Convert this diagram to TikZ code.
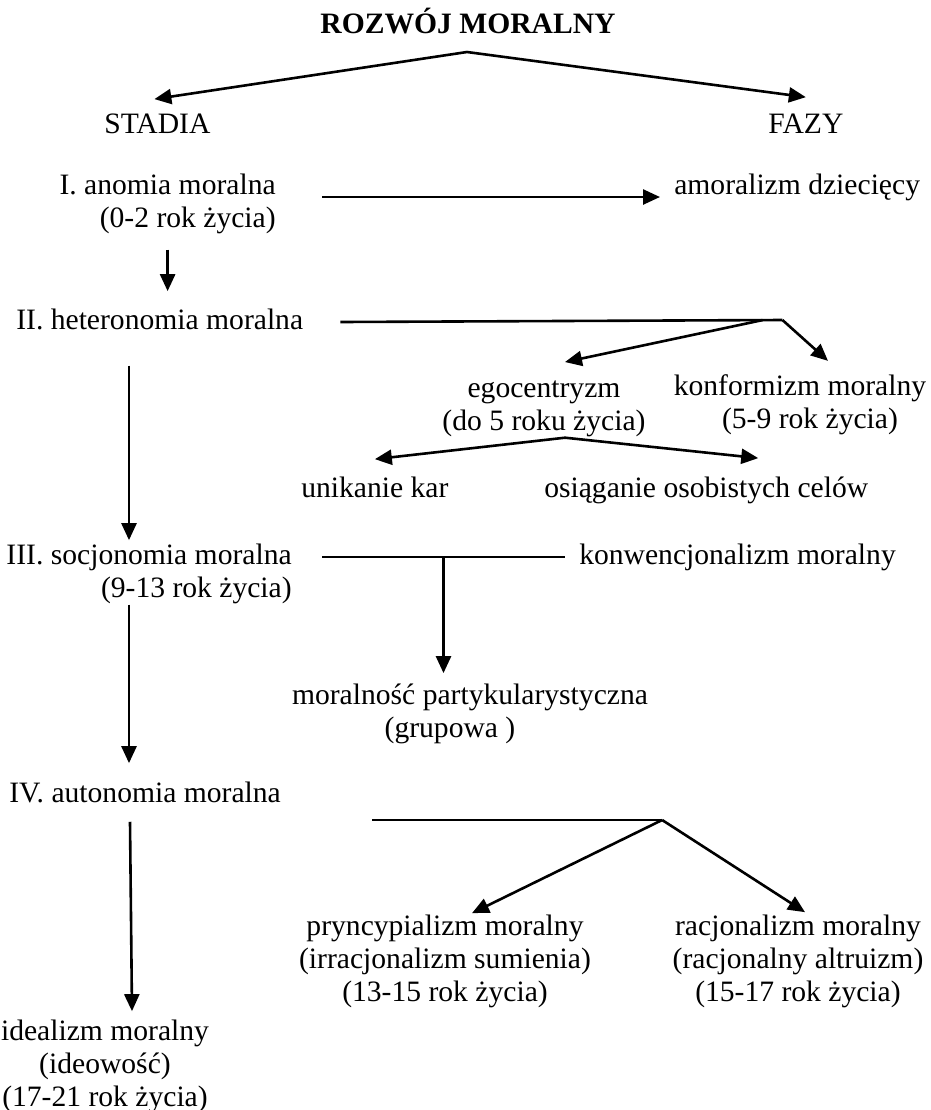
\documentclass[tikz,border=0pt]{standalone}
\usepackage{fontspec}
\setmainfont{Liberation Serif}
\usepackage{tikz}
\usetikzlibrary{arrows.meta,positioning,calc}

\begin{document}
\begin{tikzpicture}[x=0.5pt, y=-0.5pt, >={Triangle[length=8.5pt,width=7.5pt]},
  line width=1.3pt,
  every node/.style={inner sep=0pt, font=\fontsize{14.8}{16.5}\selectfont},
  napis/.style={anchor=base west},
  blok/.style={anchor=base, align=center},
  blokp/.style={anchor=base east, align=right}]

  \useasboundingbox (0,0) rectangle (931,1110);

  % Define nodes (multi-line nodes sit on their last line)
  \node (rozwoj) [anchor=base, font=\fontsize{14.8}{16.5}\selectfont\bfseries] at (468,33) {ROZWÓJ MORALNY};
  \node (stadia) [napis] at (103,133) {STADIA};
  \node (fazy) [napis] at (767,133) {FAZY};
  \node (anomia) [blokp] at (277,227) {I. anomia moralna\\(0-2 rok życia)};
  \node (amoralizm) [napis] at (673,194) {amoralizm dziecięcy};
  \node (heteronomia) [napis] at (15,329) {II. heteronomia moralna};
  \node (egocentryzm) [blok] at (544,430) {egocentryzm\\(do 5 roku życia)};
  \node (konformizm) [blok] at (800,428) {konformizm moralny\\\hspace*{10pt}(5-9 rok życia)};
  \node (unikanie) [napis] at (300,497) {unikanie kar};
  \node (osiaganie) [napis] at (543,497) {osiąganie osobistych celów};
  \node (socjonomia) [blokp] at (293,597) {III. socjonomia moralna\\(9-13 rok życia)};
  \node (konwencjonalizm) [napis] at (578,564) {konwencjonalizm moralny};
  \node (partykularyzm) [blok] at (470,737) {moralność partykularystyczna\\(grupowa )\hspace*{20pt}};
  \node (autonomia) [napis] at (8,802) {IV. autonomia moralna};
  \node (pryncypializm) [blok] at (445,1001) {pryncypializm moralny\\(irracjonalizm sumienia)\\(13-15 rok życia)};
  \node (racjonalizm) [blok] at (798,1001) {racjonalizm moralny\\(racjonalny altruizm)\\(15-17 rok życia)};
  \node (idealizm) [blok] at (105,1106) {idealizm moralny\\(ideowość)\\(17-21 rok życia)};

  % Define branch points
  \coordinate (r0) at (467,52);
  \coordinate (kol) at (129,0);
  \coordinate (h1) at ($(heteronomia.base east)+(36,-7)$);
  \coordinate (h0) at ($(h1)+(442,-2)$);
  \coordinate (e0) at ($(egocentryzm.south)+(21,0)$);
  \coordinate (s1) at ($(socjonomia.base east)+(29,-40)$);
  \coordinate (s2) at ($(konwencjonalizm.base west)+(-13,-7)$);
  \coordinate (s0) at ($(s1)!0.5!(s2)$);
  \coordinate (a1) at ($(autonomia.base east)+(90,18)$);
  \coordinate (a0) at ($(a1)+(290,0)$);

  % Draw arrows
  \draw[->] (r0) -- ($(stadia.north)+(-3,-13)$);
  \draw[->] (r0) -- ($(fazy.north)+(0,-15)$);
  \draw[->] ($(anomia.base east)+(45,-30)$) -- ($(amoralizm.base west)+(-13,3)$);
  \draw[->] ($(anomia.south)+(0,15)$) -- ($(anomia.south |- heteronomia.north)+(0,-16)$);
  \draw (h1) -- (h0);
  \draw[->] (h0) -- ($(konformizm.north)+(28,-12)$);
  \draw[->] ($(h1)!0.955!(h0)$) -- ($(egocentryzm.north)+(21,-17)$);
  \draw[->] (e0) -- ($(unikanie.north)+(0,-16)$);
  \draw[->] (e0) -- ($(osiaganie.north)+(52,-17)$);
  \draw[->] ($(kol |- heteronomia.south)+(0,35)$) -- ($(kol |- socjonomia.north)+(0,-2)$);
  \draw (s1) -- (s2);
  \draw[->] (s0) -- ($(s0 |- partykularyzm.north)+(0,-9)$);
  \draw[->] (kol |- socjonomia.south) -- ($(kol |- autonomia.north)+(0,-17)$);
  \draw (a1) -- (a0);
  \draw[->] (a0) -- ($(pryncypializm.north)+(27,0)$);
  \draw[->] (a0) -- ($(racjonalizm.north)+(7,-1)$);
  \draw[->] ($(kol |- autonomia.south)+(1,18)$) -- ($(kol |- idealizm.north)+(3,-7)$);
\end{tikzpicture}
\end{document}
